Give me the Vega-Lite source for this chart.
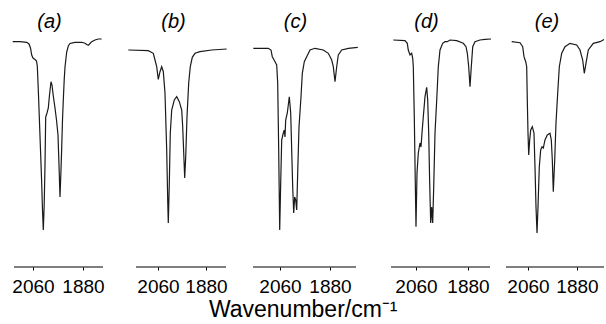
{
  "$schema": "https://vega.github.io/schema/vega-lite/v6.json",
  "background": "white",
  "padding": {"left": 0, "top": 12, "right": 0, "bottom": 0},
  "datasets": {
    "s": [
      {"p":"a","wn":2133,"T":225.3},{"p":"a","wn":2106.8,"T":225.3},{"p":"a","wn":2082.7,"T":224.7},{"p":"a","wn":2074.4,"T":223},{"p":"a","wn":2069,"T":219},{"p":"a","wn":2064.7,"T":212},{"p":"a","wn":2060,"T":209},{"p":"a","wn":2052.8,"T":207.5},{"p":"a","wn":2047.4,"T":206},{"p":"a","wn":2044.5,"T":201},{"p":"a","wn":2040.9,"T":177},{"p":"a","wn":2037.3,"T":150},{"p":"a","wn":2033,"T":117},{"p":"a","wn":2028.7,"T":84},{"p":"a","wn":2025.8,"T":57},{"p":"a","wn":2022.9,"T":37},{"p":"a","wn":2019.7,"T":62},{"p":"a","wn":2016.8,"T":102},{"p":"a","wn":2014.3,"T":150},{"p":"a","wn":2009.6,"T":154},{"p":"a","wn":2004.9,"T":159},{"p":"a","wn":2000.6,"T":172},{"p":"a","wn":1995.2,"T":185.3},{"p":"a","wn":1991.6,"T":182},{"p":"a","wn":1986.9,"T":171},{"p":"a","wn":1980.8,"T":159},{"p":"a","wn":1975.4,"T":147},{"p":"a","wn":1970,"T":132},{"p":"a","wn":1966.4,"T":102},{"p":"a","wn":1962.8,"T":70},{"p":"a","wn":1959.2,"T":97},{"p":"a","wn":1956.7,"T":119},{"p":"a","wn":1953.8,"T":147},{"p":"a","wn":1950.9,"T":167},{"p":"a","wn":1947.7,"T":187},{"p":"a","wn":1944.8,"T":200},{"p":"a","wn":1938.7,"T":215},{"p":"a","wn":1932.9,"T":221},{"p":"a","wn":1926.8,"T":223.5},{"p":"a","wn":1908.8,"T":224.7},{"p":"a","wn":1884.7,"T":224.7},{"p":"a","wn":1872.8,"T":223.7},{"p":"a","wn":1866.7,"T":222.5},{"p":"a","wn":1860.9,"T":221.7},{"p":"a","wn":1854.8,"T":223.5},{"p":"a","wn":1848.7,"T":225.3},{"p":"a","wn":1836.8,"T":227},{"p":"a","wn":1824.9,"T":228},{"p":"a","wn":1812.7,"T":228},
      {"p":"b","wn":2171.4,"T":217},{"p":"b","wn":2096.4,"T":216.3},{"p":"b","wn":2077.6,"T":213.7},{"p":"b","wn":2071.3,"T":207},{"p":"b","wn":2064.9,"T":200.3},{"p":"b","wn":2058.9,"T":187.7},{"p":"b","wn":2052.5,"T":195.3},{"p":"b","wn":2046.1,"T":200.3},{"p":"b","wn":2040.1,"T":195.3},{"p":"b","wn":2033.8,"T":174},{"p":"b","wn":2027.4,"T":117},{"p":"b","wn":2023.6,"T":67},{"p":"b","wn":2021.4,"T":44},{"p":"b","wn":2017.6,"T":84},{"p":"b","wn":2013.9,"T":134},{"p":"b","wn":2008.6,"T":157},{"p":"b","wn":1998.9,"T":167},{"p":"b","wn":1989.9,"T":170.3},{"p":"b","wn":1980.1,"T":165.3},{"p":"b","wn":1971.1,"T":157},{"p":"b","wn":1967.4,"T":140.3},{"p":"b","wn":1962.5,"T":107},{"p":"b","wn":1959.9,"T":89},{"p":"b","wn":1956.1,"T":110},{"p":"b","wn":1951.3,"T":150},{"p":"b","wn":1944.9,"T":184},{"p":"b","wn":1938.9,"T":200.3},{"p":"b","wn":1931.4,"T":209.7},{"p":"b","wn":1921.3,"T":213.7},{"p":"b","wn":1902.5,"T":215.3},{"p":"b","wn":1858.6,"T":217},{"p":"b","wn":1802.4,"T":218},
      {"p":"c","wn":2156.1,"T":218.7},{"p":"c","wn":2102.1,"T":218.7},{"p":"c","wn":2092.4,"T":217},{"p":"c","wn":2087.7,"T":210.3},{"p":"c","wn":2082.7,"T":207.7},{"p":"c","wn":2078,"T":205.3},{"p":"c","wn":2071.9,"T":202},{"p":"c","wn":2068.3,"T":184},{"p":"c","wn":2064.7,"T":117},{"p":"c","wn":2061.1,"T":37},{"p":"c","wn":2057.5,"T":84},{"p":"c","wn":2053.9,"T":127},{"p":"c","wn":2048.1,"T":134},{"p":"c","wn":2044.5,"T":137},{"p":"c","wn":2042,"T":130},{"p":"c","wn":2039.5,"T":147},{"p":"c","wn":2033.7,"T":154},{"p":"c","wn":2026.5,"T":170.3},{"p":"c","wn":2021.5,"T":154},{"p":"c","wn":2017.9,"T":117},{"p":"c","wn":2014.3,"T":80},{"p":"c","wn":2010.7,"T":54},{"p":"c","wn":2007.1,"T":70},{"p":"c","wn":2003.5,"T":67},{"p":"c","wn":1999.9,"T":57},{"p":"c","wn":1996.3,"T":94},{"p":"c","wn":1991.6,"T":140},{"p":"c","wn":1984.4,"T":170.3},{"p":"c","wn":1979.7,"T":193.7},{"p":"c","wn":1972.5,"T":205.3},{"p":"c","wn":1963.9,"T":210.3},{"p":"c","wn":1952,"T":217},{"p":"c","wn":1934,"T":218.7},{"p":"c","wn":1904.1,"T":217},{"p":"c","wn":1886.1,"T":213.7},{"p":"c","wn":1873.9,"T":207},{"p":"c","wn":1868.1,"T":200.3},{"p":"c","wn":1862,"T":185.3},{"p":"c","wn":1855.9,"T":200.3},{"p":"c","wn":1850.1,"T":212},{"p":"c","wn":1837.9,"T":217},{"p":"c","wn":1814.1,"T":218.7},{"p":"c","wn":1780,"T":219.7},
      {"p":"d","wn":2138.6,"T":227},{"p":"d","wn":2098.1,"T":226.3},{"p":"d","wn":2090.1,"T":223.7},{"p":"d","wn":2086.7,"T":217},{"p":"d","wn":2080.8,"T":212},{"p":"d","wn":2074.9,"T":213.7},{"p":"d","wn":2071.4,"T":208.7},{"p":"d","wn":2069.3,"T":200.3},{"p":"d","wn":2065.9,"T":150.3},{"p":"d","wn":2062.4,"T":84},{"p":"d","wn":2060,"T":40.3},{"p":"d","wn":2056.5,"T":94},{"p":"d","wn":2052,"T":114},{"p":"d","wn":2046.2,"T":124},{"p":"d","wn":2042.7,"T":120},{"p":"d","wn":2039.2,"T":134},{"p":"d","wn":2034.7,"T":150.3},{"p":"d","wn":2028.8,"T":170.3},{"p":"d","wn":2023,"T":179.7},{"p":"d","wn":2019.5,"T":167},{"p":"d","wn":2016,"T":134},{"p":"d","wn":2012.6,"T":84},{"p":"d","wn":2009.1,"T":44},{"p":"d","wn":2005.7,"T":60},{"p":"d","wn":2002.2,"T":44},{"p":"d","wn":1998.7,"T":80},{"p":"d","wn":1994.2,"T":134},{"p":"d","wn":1988.3,"T":167},{"p":"d","wn":1982.8,"T":200.3},{"p":"d","wn":1976.9,"T":217},{"p":"d","wn":1967.6,"T":223.7},{"p":"d","wn":1959.6,"T":225.3},{"p":"d","wn":1951.7,"T":225.3},{"p":"d","wn":1942.3,"T":227},{"p":"d","wn":1919.1,"T":226.3},{"p":"d","wn":1896.3,"T":223.7},{"p":"d","wn":1886.9,"T":220.3},{"p":"d","wn":1882.4,"T":213.7},{"p":"d","wn":1877.6,"T":200.3},{"p":"d","wn":1873.1,"T":180.3},{"p":"d","wn":1868.6,"T":200.3},{"p":"d","wn":1863.7,"T":220.3},{"p":"d","wn":1855.8,"T":225.3},{"p":"d","wn":1838.5,"T":227},{"p":"d","wn":1821.2,"T":227.7},{"p":"d","wn":1800.4,"T":228},
      {"p":"e","wn":2119.9,"T":225.3},{"p":"e","wn":2089.4,"T":224.3},{"p":"e","wn":2079.5,"T":220.3},{"p":"e","wn":2074.7,"T":210.3},{"p":"e","wn":2068.4,"T":205.3},{"p":"e","wn":2064.8,"T":200.3},{"p":"e","wn":2062.6,"T":167},{"p":"e","wn":2060,"T":134},{"p":"e","wn":2057.4,"T":112},{"p":"e","wn":2053.8,"T":127},{"p":"e","wn":2050.1,"T":137},{"p":"e","wn":2044.2,"T":140.3},{"p":"e","wn":2038,"T":134},{"p":"e","wn":2034.3,"T":100},{"p":"e","wn":2030.6,"T":60},{"p":"e","wn":2026.9,"T":34},{"p":"e","wn":2023.3,"T":60},{"p":"e","wn":2018.5,"T":100},{"p":"e","wn":2013.4,"T":117},{"p":"e","wn":2008.6,"T":120.3},{"p":"e","wn":2003.8,"T":119},{"p":"e","wn":1997.6,"T":127},{"p":"e","wn":1989.1,"T":132},{"p":"e","wn":1979.2,"T":133.7},{"p":"e","wn":1974.4,"T":127},{"p":"e","wn":1970.7,"T":107},{"p":"e","wn":1967.1,"T":75.3},{"p":"e","wn":1961.9,"T":107},{"p":"e","wn":1957.2,"T":144},{"p":"e","wn":1950.9,"T":174},{"p":"e","wn":1945,"T":200.3},{"p":"e","wn":1936.2,"T":213.7},{"p":"e","wn":1924.1,"T":220.3},{"p":"e","wn":1905.7,"T":223.7},{"p":"e","wn":1881.1,"T":222},{"p":"e","wn":1869,"T":217},{"p":"e","wn":1859.1,"T":207},{"p":"e","wn":1853.2,"T":193.7},{"p":"e","wn":1847,"T":203.7},{"p":"e","wn":1838.5,"T":217},{"p":"e","wn":1820.2,"T":223.7},{"p":"e","wn":1795.5,"T":225.3},{"p":"e","wn":1780.8,"T":227.5}
    ],
    "ax": [
      {"p":"a","from":2128.4,"to":1808,"T":0},
      {"p":"b","from":2142.5,"to":1805,"T":0},
      {"p":"c","from":2157.2,"to":1786.4,"T":0},
      {"p":"d","from":2146.5,"to":1803.8,"T":0},
      {"p":"e","from":2140.8,"to":1780.8,"T":0}
    ]
  },
  "title": {"text": "Wavenumber/cm⁻¹", "orient": "bottom", "anchor": "middle", "fontSize": 23, "fontStyle": "normal", "font": "Liberation Sans", "fontWeight": "normal", "color": "black", "offset": 3, "dx": 0},
  "spacing": 0,
  "bounds": "flush",
  "hconcat": [
    {
      "width": 119, "height": 231,
      "title": {"text": "(a)", "dx": -10},
      "encoding": {
        "x": {"field": "wn", "type": "quantitative", "scale": {"domain": [2178.8, 1750.4], "nice": false, "zero": false}, "axis": {"values": [2060, 1880], "title": null, "format": "d"}},
        "y": {"field": "T", "type": "quantitative", "scale": {"domain": [0, 231], "nice": false}, "axis": null}
      },
      "layer": [
        {"data": {"name": "ax"}, "transform": [{"filter": "datum.p == 'a'"}], "mark": {"type": "rule", "color": "black", "strokeWidth": 1.2}, "encoding": {"x": {"field": "from", "type": "quantitative"}, "x2": {"field": "to"}}},
        {"data": {"name": "s"}, "transform": [{"filter": "datum.p == 'a'"}], "mark": {"type": "line", "color": "#1a1a1a", "strokeWidth": 1.2}}
      ]
    },
    {
      "width": 121, "height": 231,
      "title": {"text": "(b)", "dx": -6},
      "encoding": {
        "x": {"field": "wn", "type": "quantitative", "scale": {"domain": [2206.25, 1752.5], "nice": false, "zero": false}, "axis": {"values": [2060, 1880], "title": null, "format": "d"}},
        "y": {"field": "T", "type": "quantitative", "scale": {"domain": [0, 231], "nice": false}, "axis": null}
      },
      "layer": [
        {"data": {"name": "ax"}, "transform": [{"filter": "datum.p == 'b'"}], "mark": {"type": "rule", "color": "black", "strokeWidth": 1.2}, "encoding": {"x": {"field": "from", "type": "quantitative"}, "x2": {"field": "to"}}},
        {"data": {"name": "s"}, "transform": [{"filter": "datum.p == 'b'"}], "mark": {"type": "line", "color": "#1a1a1a", "strokeWidth": 1.2}}
      ]
    },
    {
      "width": 133, "height": 231,
      "title": {"text": "(c)", "dx": -11},
      "encoding": {
        "x": {"field": "wn", "type": "quantitative", "scale": {"domain": [2204, 1725.2], "nice": false, "zero": false}, "axis": {"values": [2060, 1880], "title": null, "format": "d"}},
        "y": {"field": "T", "type": "quantitative", "scale": {"domain": [0, 231], "nice": false}, "axis": null}
      },
      "layer": [
        {"data": {"name": "ax"}, "transform": [{"filter": "datum.p == 'c'"}], "mark": {"type": "rule", "color": "black", "strokeWidth": 1.2}, "encoding": {"x": {"field": "from", "type": "quantitative"}, "x2": {"field": "to"}}},
        {"data": {"name": "s"}, "transform": [{"filter": "datum.p == 'c'"}], "mark": {"type": "line", "color": "#1a1a1a", "strokeWidth": 1.2}}
      ]
    },
    {
      "width": 125, "height": 231,
      "title": {"text": "(d)", "dx": -9},
      "encoding": {
        "x": {"field": "wn", "type": "quantitative", "scale": {"domain": [2208.8, 1776.2], "nice": false, "zero": false}, "axis": {"values": [2060, 1880], "title": null, "format": "d"}},
        "y": {"field": "T", "type": "quantitative", "scale": {"domain": [0, 231], "nice": false}, "axis": null}
      },
      "layer": [
        {"data": {"name": "ax"}, "transform": [{"filter": "datum.p == 'd'"}], "mark": {"type": "rule", "color": "black", "strokeWidth": 1.2}, "encoding": {"x": {"field": "from", "type": "quantitative"}, "x2": {"field": "to"}}},
        {"data": {"name": "s"}, "transform": [{"filter": "datum.p == 'd'"}], "mark": {"type": "line", "color": "#1a1a1a", "strokeWidth": 1.2}}
      ]
    },
    {
      "width": 108, "height": 231,
      "title": {"text": "(e)", "dx": -5},
      "encoding": {
        "x": {"field": "wn", "type": "quantitative", "scale": {"domain": [2170.2, 1773.5], "nice": false, "zero": false}, "axis": {"values": [2060, 1880], "title": null, "format": "d"}},
        "y": {"field": "T", "type": "quantitative", "scale": {"domain": [0, 231], "nice": false}, "axis": null}
      },
      "layer": [
        {"data": {"name": "ax"}, "transform": [{"filter": "datum.p == 'e'"}], "mark": {"type": "rule", "color": "black", "strokeWidth": 1.2}, "encoding": {"x": {"field": "from", "type": "quantitative"}, "x2": {"field": "to"}}},
        {"data": {"name": "s"}, "transform": [{"filter": "datum.p == 'e'"}], "mark": {"type": "line", "color": "#1a1a1a", "strokeWidth": 1.2}}
      ]
    }
  ],
  "resolve": {"scale": {"x": "independent", "y": "independent"}},
  "config": {
    "view": {"stroke": null},
    "axisX": {"domain": false, "tickColor": "black", "tickSize": 3, "tickWidth": 1, "labelColor": "black", "labelFontSize": 19, "labelFont": "Liberation Sans", "labelPadding": 7, "labelOverlap": false, "labelFlush": false, "grid": false},
    "title": {"fontSize": 20, "font": "Liberation Sans", "fontWeight": "normal", "fontStyle": "italic", "color": "black", "offset": 4}
  }
}
